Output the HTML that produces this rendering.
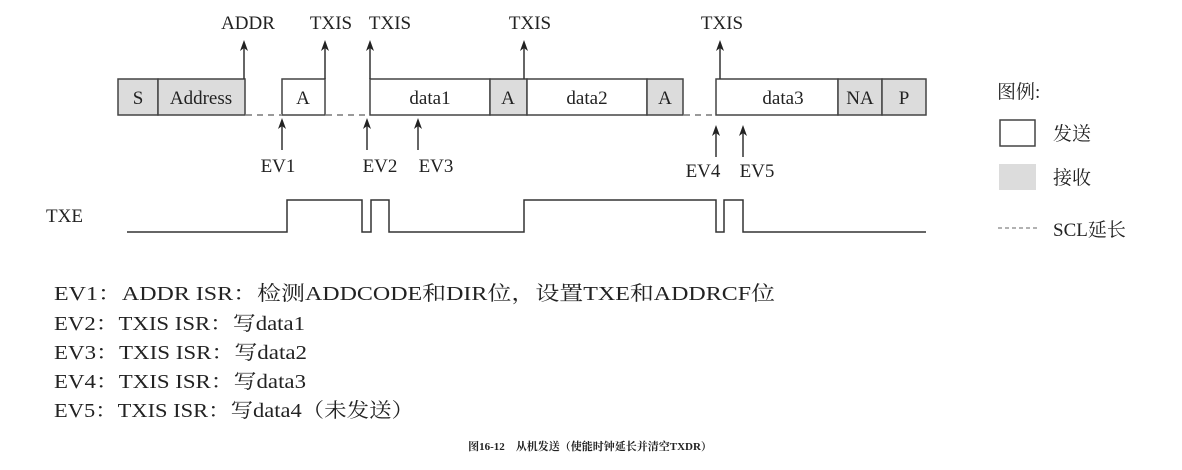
<!DOCTYPE html>
<html><head><meta charset="utf-8"><style>
html,body{margin:0;padding:0;background:#fff;}
svg{display:block;}
text{font-family:"Liberation Serif","Noto Serif CJK SC",serif;fill:#222;}
</style></head><body>
<svg width="1182" height="470" viewBox="0 0 1182 470" xmlns="http://www.w3.org/2000/svg">
<g stroke="#444" stroke-width="1.5">
<rect x="118" y="79" width="40" height="36" fill="#dcdcdc"/>
<rect x="158" y="79" width="87" height="36" fill="#dcdcdc"/>
<rect x="282" y="79" width="43" height="36" fill="#fff"/>
<rect x="370" y="79" width="120" height="36" fill="#fff"/>
<rect x="490" y="79" width="37" height="36" fill="#dcdcdc"/>
<rect x="527" y="79" width="120" height="36" fill="#fff"/>
<rect x="647" y="79" width="36" height="36" fill="#dcdcdc"/>
<rect x="716" y="79" width="122" height="36" fill="#fff"/>
<rect x="838" y="79" width="44" height="36" fill="#dcdcdc"/>
<rect x="882" y="79" width="44" height="36" fill="#dcdcdc"/>
</g>
<g stroke="#999" stroke-width="2" stroke-dasharray="6,5">
<line x1="246" y1="115" x2="282" y2="115"/>
<line x1="326" y1="115" x2="370" y2="115"/>
<line x1="684" y1="115" x2="716" y2="115"/>
</g>
<g stroke="#333" stroke-width="1.5" fill="none">
<line x1="244" y1="79" x2="244" y2="44"/>
<line x1="325" y1="79" x2="325" y2="44"/>
<line x1="370" y1="79" x2="370" y2="44"/>
<line x1="524" y1="79" x2="524" y2="44"/>
<line x1="720" y1="79" x2="720" y2="44"/>
<line x1="282" y1="150" x2="282" y2="122"/>
<line x1="367" y1="150" x2="367" y2="122"/>
<line x1="418" y1="150" x2="418" y2="122"/>
<line x1="716" y1="157" x2="716" y2="129"/>
<line x1="743" y1="157" x2="743" y2="129"/>
<polyline points="127,232 287,232 287,200 362,200 362,232 371,232 371,200 389,200 389,232 524,232 524,200 716,200 716,232 724,232 724,200 743,200 743,232 926,232"/>
</g>
<g fill="#222">
<path d="M244,40 l-4,11 l4,-3 l4,3 Z"/>
<path d="M325,40 l-4,11 l4,-3 l4,3 Z"/>
<path d="M370,40 l-4,11 l4,-3 l4,3 Z"/>
<path d="M524,40 l-4,11 l4,-3 l4,3 Z"/>
<path d="M720,40 l-4,11 l4,-3 l4,3 Z"/>
<path d="M282,118 l-4,11 l4,-3 l4,3 Z"/>
<path d="M367,118 l-4,11 l4,-3 l4,3 Z"/>
<path d="M418,118 l-4,11 l4,-3 l4,3 Z"/>
<path d="M716,125 l-4,11 l4,-3 l4,3 Z"/>
<path d="M743,125 l-4,11 l4,-3 l4,3 Z"/>
</g>
<g font-size="19">
<text x="248" y="29" text-anchor="middle">ADDR</text>
<text x="331" y="29" text-anchor="middle">TXIS</text>
<text x="390" y="29" text-anchor="middle">TXIS</text>
<text x="530" y="29" text-anchor="middle">TXIS</text>
<text x="722" y="29" text-anchor="middle">TXIS</text>
<text x="138" y="104" text-anchor="middle">S</text>
<text x="201" y="104" text-anchor="middle">Address</text>
<text x="303" y="104" text-anchor="middle">A</text>
<text x="430" y="104" text-anchor="middle">data1</text>
<text x="508" y="104" text-anchor="middle">A</text>
<text x="587" y="104" text-anchor="middle">data2</text>
<text x="665" y="104" text-anchor="middle">A</text>
<text x="783" y="104" text-anchor="middle">data3</text>
<text x="860" y="104" text-anchor="middle">NA</text>
<text x="904" y="104" text-anchor="middle">P</text>
<text x="278" y="172" text-anchor="middle">EV1</text>
<text x="380" y="172" text-anchor="middle">EV2</text>
<text x="436" y="172" text-anchor="middle">EV3</text>
<text x="703" y="177" text-anchor="middle">EV4</text>
<text x="757" y="177" text-anchor="middle">EV5</text>
<text x="46" y="222">TXE</text>
<text x="997" y="98">图例:</text>
<text x="1053" y="140">发送</text>
<text x="1053" y="184">接收</text>
<text x="1053" y="236">SCL延长</text>
</g>
<g font-size="20">
<text x="54" y="300" textLength="721" lengthAdjust="spacingAndGlyphs">EV1：ADDR ISR：检测ADDCODE和DIR位，设置TXE和ADDRCF位</text>
<text x="54" y="330" textLength="251" lengthAdjust="spacingAndGlyphs">EV2：TXIS ISR：写data1</text>
<text x="54" y="359" textLength="253" lengthAdjust="spacingAndGlyphs">EV3：TXIS ISR：写data2</text>
<text x="54" y="388" textLength="252" lengthAdjust="spacingAndGlyphs">EV4：TXIS ISR：写data3</text>
<text x="54" y="417" textLength="360" lengthAdjust="spacingAndGlyphs">EV5：TXIS ISR：写data4（未发送）</text>
</g>
<rect x="1000" y="120" width="35" height="26" fill="#fff" stroke="#444" stroke-width="1.5"/>
<rect x="999" y="164" width="37" height="26" fill="#dcdcdc"/>
<line x1="998" y1="228" x2="1040" y2="228" stroke="#666" stroke-width="1" stroke-dasharray="4,3"/>
<text x="590" y="450" text-anchor="middle" font-size="11" font-weight="bold">图16-12　从机发送（使能时钟延长并清空TXDR）</text>
</svg>
</body></html>
